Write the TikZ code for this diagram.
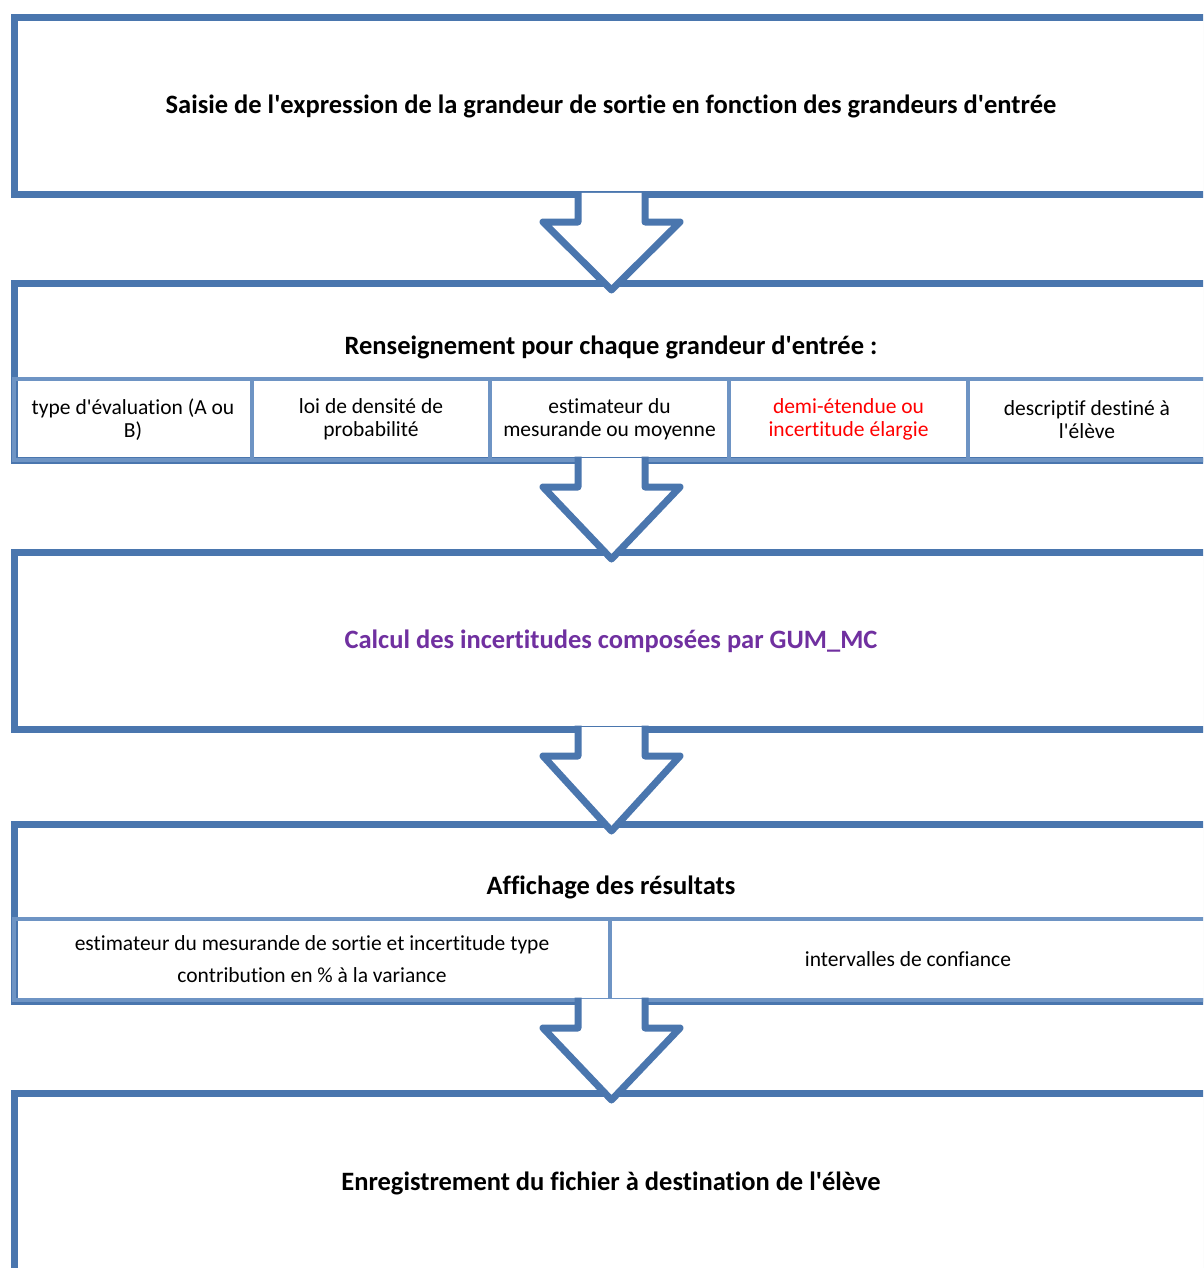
\documentclass[tikz,border=0pt]{standalone}
\usepackage{fontspec}
\setmainfont{Carlito}[Ligatures={TeXOff,NoCommon}]
\usetikzlibrary{shadows,calc}
\definecolor{cadre}{RGB}{74,118,174}
\definecolor{trait}{RGB}{110,148,196}
\definecolor{violet}{RGB}{112,48,160}

\begin{document}
\begin{tikzpicture}[x=1pt, y=-1pt,
    bloc/.style={draw=cadre, line width=7pt, fill=white, anchor=north west,
        minimum width=1200pt, minimum height=177pt, inner sep=0pt, outer sep=0pt,
        drop shadow={shadow xshift=-2pt, shadow yshift=-3pt, opacity=0.18}},
    case/.style={draw=trait, line width=4pt, anchor=north west, minimum height=81pt,
        inner sep=0pt, outer sep=0pt, align=center, font=\fontsize{21.5}{23}\selectfont},
    titre/.style={font=\fontsize{26.5}{30}\selectfont\bfseries},
    fleche/.style={draw=cadre, line width=7pt, line join=round}]
    \clip (0,0) rectangle (1203,1268);

    % the five blocks
    \node[bloc] (saisie) at (14,18) {};
    \node[bloc] (renseignement) at (14,283) {};
    \node[bloc] (calcul) at (14,552) {};
    \node[bloc] (affichage) at (14,824) {};
    \node[bloc, minimum height=200pt] (enregistrement) at (14,1093) {};

    \node[titre] (tsaisie) at (611,106) {Saisie de l'expression de la grandeur de sortie en fonction des grandeurs d'entrée};
    \node[titre] (trens) at (611,347) {Renseignement pour chaque grandeur d'entrée :};
    \node[titre, text=violet] (tcalcul) at (611,641) {Calcul des incertitudes composées par GUM\_MC};
    \node[titre] (taffich) at (611,887) {Affichage des résultats};
    \node[titre] (tenreg) at (611,1183) {Enregistrement du fichier à destination de l'élève};

    % cells of the second block
    \node[case, minimum width=238pt] (typeeval) at (14,379) {type d'évaluation (A ou\\B)};
    \node[case, minimum width=238pt] (loi) at (typeeval.north east) {loi de densité de\\probabilité};
    \node[case, minimum width=239pt] (estim) at (loi.north east) {estimateur du\\mesurande ou moyenne};
    \node[case, minimum width=239pt, text=red] (demi) at (estim.north east) {demi-étendue ou\\incertitude élargie};
    \node[case, minimum width=238pt] (descr) at (demi.north east) {descriptif destiné à\\l'élève};

    % cells of the fourth block
    \node[case, minimum width=596pt, font=\fontsize{21.5}{32}\selectfont] (sortie) at (14,919)
        {estimateur du mesurande de sortie et incertitude type\\contribution en \% à la variance};
    \node[case, minimum width=596pt] (interv) at (sortie.north east) {intervalles de confiance};

    % block arrows
    \coordinate (axe) at (611.5,0);
    \foreach \a/\b in {saisie/renseignement, renseignement/calcul, calcul/affichage, affichage/enregistrement} {
        \coordinate (haut) at (axe |- \a.south);
        \coordinate (bas) at (axe |- \b.north);
        \fill[white] ($(haut)+(-33.5,-2)$) -- ($(haut)+(-33.5,27)$) -- ($(haut)+(-68.5,27)$)
            -- ($(bas)+(0,7)$) -- ($(haut)+(68.5,27)$) -- ($(haut)+(33.5,27)$) -- ($(haut)+(33.5,-2)$) -- cycle;
        \draw[fleche] ($(haut)+(-33.5,-3.5)$) -- ($(haut)+(-33.5,27)$) -- ($(haut)+(-68.5,27)$)
            -- ($(bas)+(0,7)$) -- ($(haut)+(68.5,27)$) -- ($(haut)+(33.5,27)$) -- ($(haut)+(33.5,-3.5)$);
    }
\end{tikzpicture}
\end{document}
